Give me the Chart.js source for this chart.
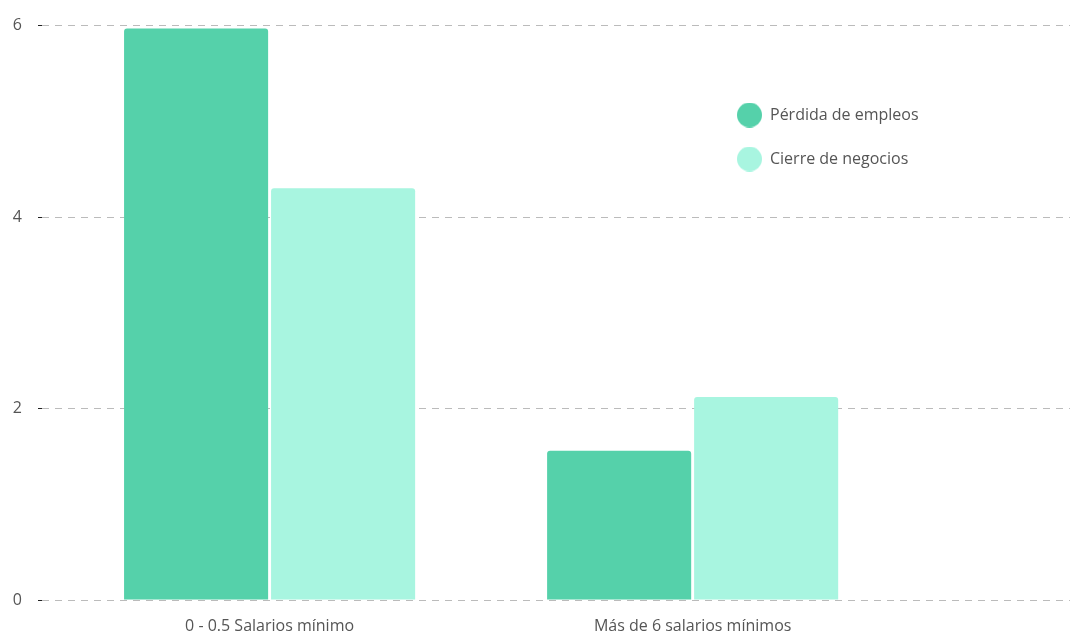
<!DOCTYPE html>
<html>
<head>
<meta charset="utf-8">
<script src="https://cdn.jsdelivr.net/npm/chart.js@4/dist/chart.umd.min.js"></script>
<style>
  html, body { margin: 0; padding: 0; background: #fff; }
  #wrap { width: 1070px; height: 635px; position: relative; }
</style>
</head>
<body>
<div id="wrap"><canvas id="chart"></canvas></div>
<script>
// categories and series
const categories = ['0 - 0.5 Salarios mínimo', 'Más de 6 salarios mínimos'];
const perdidaEmpleos = [5.97, 1.56];
const cierreNegocios = [4.30, 2.12];
const seriesNames = ['Pérdida de empleos', 'Cierre de negocios'];
const yTicks = [0, 2, 4, 6];

const colorDark = '#55d1aa';
const colorLight = '#a8f5e0';
const textColor = '#555';
const fontFamily = '"Open Sans", "Noto Sans", sans-serif';

// bars sit on a linear x so the categories can keep their spacing while the grid runs full width
const toPoints = vals => vals.map((v, i) => ({ x: i, y: v }));

// round legend dots, a bit bigger than the legend font allows
function dot(color) {
    const c = document.createElement('canvas');
    c.width = 25;
    c.height = 25;
    const ctx = c.getContext('2d');
    ctx.fillStyle = color;
    ctx.beginPath();
    ctx.arc(12.5, 12.5, 12.5, 0, Math.PI * 2);
    ctx.fill();
    return c;
}

// put the legend in the top right of the plot
const legendPlacer = {
    id: 'legendPlacer',
    afterLayout(chart) {
        const lg = chart.legend;
        if (!lg) return;
        const w = lg.width;
        lg.left = 709;
        lg.right = 709 + w;
        lg.top = 79;
        lg.bottom = chart.chartArea.bottom;
    }
};

new Chart(document.getElementById('chart'), {
    type: 'bar',
    data: {
        datasets: [
            {
                label: seriesNames[0],
                data: toPoints(perdidaEmpleos),
                backgroundColor: colorDark,
                pointStyle: dot(colorDark),
                borderWidth: 0,
                borderRadius: 3
            },
            {
                label: seriesNames[1],
                data: toPoints(cierreNegocios),
                backgroundColor: colorLight,
                pointStyle: dot(colorLight),
                borderWidth: 0,
                borderRadius: 3
            }
        ]
    },
    options: {
        responsive: true,
        maintainAspectRatio: false,
        animation: false,
        categoryPercentage: 0.695,
        barPercentage: 0.98,
        layout: { padding: { left: 0, right: 0, top: 24, bottom: 0 } },
        plugins: {
            legend: {
                position: 'chartArea',
                align: 'start',
                labels: {
                    usePointStyle: true,
                    pointStyleWidth: 25,
                    padding: 28,
                    color: textColor,
                    font: { family: fontFamily, size: 16 }
                }
            },
            tooltip: { enabled: false }
        },
        scales: {
            x: {
                type: 'linear',
                offset: false,
                min: -0.538,
                max: 1.892,
                afterBuildTicks: scale => {
                    scale.ticks = categories.map((c, i) => ({ value: i }));
                },
                afterFit: scale => { scale.height = 35; },
                grid: { display: false, drawTicks: false, offset: false },
                border: { display: false },
                ticks: {
                    maxRotation: 0,
                    autoSkip: false,
                    padding: 17,
                    color: textColor,
                    font: { family: fontFamily, size: 16 },
                    callback: v => categories[v]
                }
            },
            y: {
                min: 0,
                max: 6,
                afterBuildTicks: scale => {
                    scale.ticks = yTicks.map(v => ({ value: v }));
                },
                afterFit: scale => { scale.width = 42; },
                grid: {
                    color: '#bbb',
                    lineWidth: 1,
                    borderDash: [7, 6],
                    tickLength: 4,
                    tickColor: '#222',
                    tickBorderDash: [],
                    tickWidth: 1
                },
                border: { display: false, dash: [7, 6] },
                ticks: {
                    padding: 16,
                    color: textColor,
                    font: { family: fontFamily, size: 16 }
                }
            }
        }
    },
    plugins: [legendPlacer]
});
</script>
</body>
</html>
